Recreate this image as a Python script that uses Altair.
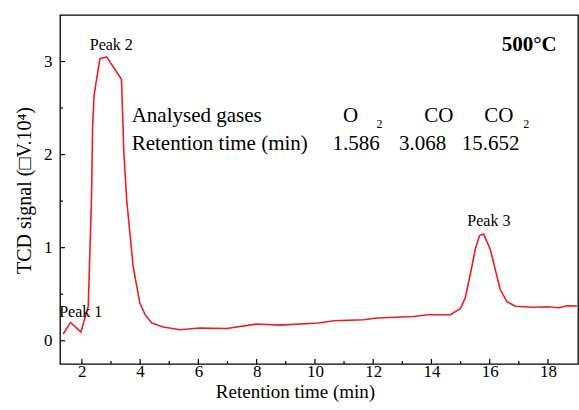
import altair as alt
import pandas as pd

# ---- data ----
time_min = [1.36, 1.61, 1.97, 2.10, 2.22, 2.33, 2.37, 2.42, 2.62, 2.85, 3.36, 3.44, 3.54,
            3.76, 3.99, 4.17, 4.40, 4.79, 5.37, 6.05, 6.97, 8.00, 8.80, 10.12, 10.64,
            11.67, 12.13, 13.39, 13.85, 14.65, 14.99, 15.16, 15.39, 15.50, 15.65, 15.79,
            16.02, 16.36, 16.59, 16.88, 17.51, 17.97, 18.37, 18.66, 19.00]
signal = [0.072, 0.197, 0.093, 0.24, 0.37, 1.51, 2.30, 2.64, 3.03, 3.05, 2.81, 2.03, 1.51,
          0.80, 0.405, 0.28, 0.19, 0.147, 0.118, 0.136, 0.132, 0.18, 0.168, 0.19, 0.215,
          0.225, 0.244, 0.26, 0.28, 0.28, 0.344, 0.46, 0.80, 0.98, 1.13, 1.146,
          0.98, 0.55, 0.42, 0.37, 0.36, 0.365, 0.355, 0.376, 0.373]

x_major_ticks = [2, 4, 6, 8, 10, 12, 14, 16, 18]
x_minor_ticks = [3, 5, 7, 9, 11, 13, 15, 17]
y_major_ticks = [0, 1, 2, 3]
y_minor_ticks = [0.5, 1.5, 2.5]

peak_labels = ["Peak 1", "Peak 2", "Peak 3"]
peak_x = [1.96, 3.01, 15.97]
peak_y = [0.258, 3.124, 1.232]

table_left_text = ["Analysed gases", "Retention time (min)"]
table_left_x = [3.711, 3.711]
table_left_y = [2.353, 2.049]

table_center_text = ["O", "CO", "CO", "1.586", "3.068", "15.652"]
table_center_x = [11.22, 14.25, 16.31, 11.41, 13.70, 16.03]
table_center_y = [2.353, 2.353, 2.353, 2.049, 2.049, 2.049]

sub_text = ["2", "2"]
sub_x = [12.22, 17.25]
sub_y = [2.282, 2.282]

temp_text = ["500°C"]
temp_x = [18.30]
temp_y = [3.108]

X_DOMAIN = [1.25, 19.03]
Y_DOMAIN = [-0.25, 3.5]
W, H = 518, 349
FONT = "Liberation Serif"
RED = "#ee1c25"

curve = pd.DataFrame({"t": time_min, "s": signal})

xs = alt.Scale(domain=X_DOMAIN, nice=False, zero=False)
ys = alt.Scale(domain=Y_DOMAIN, nice=False, zero=False)

x_axis = alt.Axis(values=x_major_ticks, title="Retention time (min)", grid=False, format="d",
                  ticks=False, tickSize=0, domain=False, labelFont=FONT, labelFontSize=17,
                  labelColor="black", labelBaseline="alphabetic", labelPadding=12,
                  titleFont=FONT, titleFontSize=19, titleFontWeight="normal",
                  titleColor="black", titleX=235, titleY=33, titleAlign="center",
                  titleBaseline="alphabetic")
y_axis = alt.Axis(values=y_major_ticks, title="TCD signal (□V.10⁴)", grid=False, format="d",
                  ticks=False, tickSize=0, domain=False, labelFont=FONT, labelFontSize=17,
                  labelColor="black", labelPadding=8,
                  titleFont=FONT, titleFontSize=20, titleFontWeight="normal",
                  titleColor="black", titleX=-30, titleY=175, titleAlign="center",
                  titleBaseline="alphabetic", titleAngle=270)

line = alt.Chart(curve).mark_line(color=RED, strokeWidth=1.6).encode(
    x=alt.X("t:Q", scale=xs, axis=x_axis),
    y=alt.Y("s:Q", scale=ys, axis=y_axis),
)

xmaj = alt.Chart(pd.DataFrame({"v": x_major_ticks})).mark_rule(color="black", strokeWidth=1.2).encode(
    x=alt.X("v:Q", scale=xs), y=alt.value(H), y2=alt.value(H - 5))
xmin = alt.Chart(pd.DataFrame({"v": x_minor_ticks})).mark_rule(color="black", strokeWidth=1.2).encode(
    x=alt.X("v:Q", scale=xs), y=alt.value(H), y2=alt.value(H - 3))
ymaj = alt.Chart(pd.DataFrame({"v": y_major_ticks})).mark_rule(color="black", strokeWidth=1.2).encode(
    y=alt.Y("v:Q", scale=ys), x=alt.value(0), x2=alt.value(5))
ymin = alt.Chart(pd.DataFrame({"v": y_minor_ticks})).mark_rule(color="black", strokeWidth=1.2).encode(
    y=alt.Y("v:Q", scale=ys), x=alt.value(0), x2=alt.value(3))


def text_layer(texts, xv, yv, size, align, weight="normal"):
    df = pd.DataFrame({"label": texts, "x": xv, "y": yv})
    return alt.Chart(df).mark_text(font=FONT, fontSize=size, align=align, baseline="alphabetic",
                                   fontWeight=weight, color="black").encode(
        x=alt.X("x:Q", scale=xs), y=alt.Y("y:Q", scale=ys), text="label:N")


peaks = text_layer(peak_labels, peak_x, peak_y, 16, "center")
tleft = text_layer(table_left_text, table_left_x, table_left_y, 21, "left")
tcenter = text_layer(table_center_text, table_center_x, table_center_y, 21, "center")
subs = text_layer(sub_text, sub_x, sub_y, 12, "center")
temp = text_layer(temp_text, temp_x, temp_y, 21, "right", "bold")

chart = alt.layer(line, xmaj, xmin, ymaj, ymin, peaks, tleft, tcenter, subs, temp).properties(
    width=W, height=H,
    autosize=alt.AutoSizeParams(type="none"),
    padding={"left": 60, "top": 15, "right": 1, "bottom": 46},
    background="white",
).configure_view(stroke="black", strokeWidth=1.3)

chart.save("out.html", embed_options={"renderer": "svg", "actions": False})
